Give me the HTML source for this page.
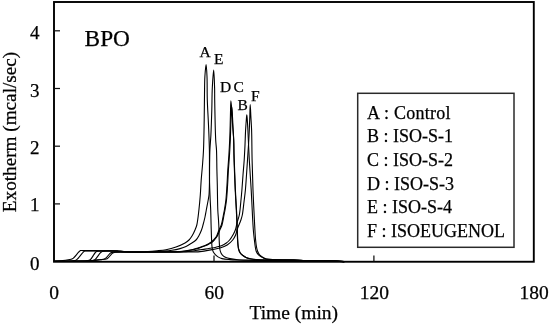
<!DOCTYPE html>
<html><head><meta charset="utf-8">
<style>
html,body{margin:0;padding:0;background:#fff;width:550px;height:325px;overflow:hidden}
svg{display:block;filter:grayscale(1)}
text{font-family:"Liberation Serif",serif;fill:#000;stroke:#000;stroke-width:0.25px}
</style></head><body>
<svg width="550" height="325" viewBox="0 0 550 325">
<!-- frame -->
<rect x="54" y="2" width="479.8" height="259.75" fill="none" stroke="#000" stroke-width="1.9"/>
<!-- y ticks -->
<g stroke="#111" stroke-width="1.25">
<line x1="54" y1="203.9" x2="60" y2="203.9"/>
<line x1="54" y1="146.2" x2="60" y2="146.2"/>
<line x1="54" y1="88.5" x2="60" y2="88.5"/>
<line x1="54" y1="30.8" x2="60" y2="30.8"/>
<line x1="214" y1="261.6" x2="214" y2="255.6"/>
<line x1="373.9" y1="261.6" x2="373.9" y2="255.6"/>
</g>
<!-- y labels -->
<g font-size="19" text-anchor="end">
<text x="39.5" y="269.5">0</text>
<text x="39.5" y="211.0">1</text>
<text x="39.5" y="153.7">2</text>
<text x="39.5" y="96.5">3</text>
<text x="39.5" y="38.6">4</text>
</g>
<g font-size="19.5" text-anchor="middle">
<text x="54" y="298.6">0</text>
<text x="214.2" y="298.6">60</text>
<text x="374.4" y="298.6">120</text>
<text x="534" y="298.6">180</text>
</g>
<text x="293.8" y="319.2" font-size="19.5" text-anchor="middle">Time (min)</text>
<text transform="translate(16,132) rotate(-90)" font-size="19.2" text-anchor="middle">Exotherm (mcal/sec)</text>
<text x="84.6" y="46" font-size="23.3">BPO</text>
<g fill="none" stroke="#000" stroke-width="1.1" stroke-linejoin="round" stroke-linecap="round">
<path d="M54.50,261.20 C54.50,261.20 60.40,260.89 62.90,260.60 C64.93,260.36 66.72,260.03 68.40,259.70 C69.84,259.42 70.96,259.60 72.40,258.80 C74.81,257.46 78.48,251.44 80.50,250.60 C81.40,250.22 81.68,250.60 82.80,250.60 C85.87,250.61 94.28,250.67 100.00,250.70 C105.68,250.73 112.57,250.57 117.00,250.80 C119.85,250.95 121.40,251.35 124.00,251.50 C127.25,251.69 131.18,251.69 135.00,251.70 C139.15,251.71 144.07,251.68 148.00,251.50 C151.28,251.35 154.00,251.10 157.00,250.80 C160.00,250.50 162.94,250.30 166.00,249.70 C169.27,249.06 172.80,248.14 176.00,247.00 C179.12,245.89 182.66,244.37 185.00,243.00 C186.67,242.02 187.81,241.20 189.00,240.00 C190.26,238.73 191.32,237.12 192.30,235.50 C193.33,233.80 194.23,231.81 195.00,230.00 C195.71,228.31 196.27,227.15 196.80,225.00 C197.70,221.37 198.32,215.01 198.90,210.00 C199.48,205.01 199.92,200.00 200.30,195.00 C200.68,190.00 200.83,185.00 201.20,180.00 C201.57,175.00 202.12,170.00 202.50,165.00 C202.88,160.00 203.24,155.86 203.50,150.00 C203.87,141.72 204.03,129.54 204.20,120.00 C204.35,111.29 204.37,102.71 204.50,95.00 C204.61,88.37 204.56,81.98 204.90,76.50 C205.17,72.09 205.75,64.60 206.10,64.60 C206.45,64.60 206.80,71.86 207.00,76.50 C207.29,83.01 207.06,92.05 207.30,100.00 C207.55,108.21 208.15,116.67 208.50,125.00 C208.85,133.33 209.23,141.29 209.40,150.00 C209.59,159.54 209.33,171.01 209.50,180.00 C209.64,187.34 209.97,194.48 210.20,200.00 C210.37,203.91 210.56,206.33 210.70,210.00 C210.87,214.49 210.95,220.00 211.10,225.00 C211.25,230.00 211.39,235.86 211.60,240.00 C211.75,242.93 211.76,245.36 212.10,247.50 C212.36,249.15 212.61,250.57 213.20,251.80 C213.72,252.89 214.50,253.75 215.30,254.60 C216.10,255.45 216.96,256.25 218.00,256.90 C219.16,257.61 220.40,258.17 222.00,258.60 C224.18,259.19 227.18,259.37 230.00,259.60 C233.14,259.86 236.09,259.88 240.00,260.00 C245.52,260.17 252.96,260.30 260.00,260.40 C267.87,260.51 275.97,260.51 285.00,260.60 C295.69,260.70 310.59,260.92 320.00,261.00 C326.36,261.06 331.58,260.95 336.00,261.10 C339.13,261.21 344.00,261.60 344.00,261.60"/>
<path d="M54.50,261.20 C54.50,261.20 62.64,261.10 66.00,261.00 C68.62,260.92 71.11,260.97 73.00,260.70 C74.32,260.51 75.07,260.61 76.30,259.90 C78.62,258.56 82.54,252.10 84.60,251.10 C85.50,250.66 85.82,250.95 86.90,250.90 C89.48,250.79 95.35,250.89 100.00,250.90 C105.30,250.92 112.39,250.76 117.00,251.00 C120.17,251.17 121.59,251.63 125.00,251.80 C131.02,252.10 143.18,251.97 150.00,251.80 C154.73,251.68 158.18,251.47 162.00,251.20 C165.49,250.96 168.87,250.77 172.00,250.30 C174.83,249.87 177.54,249.29 180.00,248.60 C182.16,247.99 184.13,247.38 186.00,246.50 C187.79,245.66 189.35,244.57 191.00,243.50 C192.69,242.41 194.64,241.39 196.00,240.00 C197.28,238.69 198.10,237.11 199.00,235.50 C199.95,233.79 200.82,231.81 201.50,230.00 C202.13,228.32 202.49,226.87 203.00,225.00 C203.65,222.65 204.44,219.59 205.00,217.00 C205.52,214.60 205.82,212.54 206.30,210.00 C206.87,206.96 207.72,202.76 208.20,200.00 C208.54,198.05 208.80,197.12 209.00,195.00 C209.35,191.35 209.40,185.00 209.50,180.00 C209.60,175.00 209.53,170.00 209.60,165.00 C209.67,160.00 209.68,155.00 209.90,150.00 C210.12,145.00 210.61,140.64 210.90,135.00 C211.27,127.73 211.56,118.07 211.80,110.00 C212.02,102.43 211.95,94.96 212.30,88.00 C212.62,81.69 213.32,69.99 213.70,70.00 C214.08,70.01 214.44,82.60 214.60,88.00 C214.73,92.40 214.61,94.83 214.70,100.00 C214.86,109.44 215.23,131.12 215.70,140.00 C215.93,144.45 216.30,146.09 216.50,150.00 C216.78,155.52 216.76,163.81 216.90,170.00 C217.03,175.36 217.17,179.36 217.30,185.00 C217.47,192.27 217.51,203.55 217.80,210.00 C217.98,214.09 218.30,216.67 218.50,220.00 C218.70,223.33 218.88,226.67 219.00,230.00 C219.12,233.33 219.06,236.76 219.20,240.00 C219.33,243.08 219.37,246.62 219.80,249.00 C220.09,250.62 220.40,251.83 221.00,253.00 C221.56,254.08 222.34,255.04 223.20,255.80 C224.02,256.53 224.95,257.05 226.00,257.50 C227.18,258.01 228.38,258.26 230.00,258.60 C232.43,259.12 235.71,259.70 239.20,260.00 C243.75,260.39 248.90,260.21 255.00,260.30 C263.41,260.42 274.61,260.49 285.00,260.60 C296.22,260.72 310.59,260.92 320.00,261.00 C326.36,261.06 331.58,260.95 336.00,261.10 C339.13,261.21 344.00,261.60 344.00,261.60"/>
<path d="M54.50,261.20 C54.50,261.20 74.16,261.15 80.00,261.00 C83.06,260.92 85.13,261.00 87.00,260.70 C88.29,260.49 89.12,260.56 90.20,259.80 C92.03,258.52 94.19,253.22 95.80,252.00 C96.60,251.40 96.88,251.40 98.00,251.20 C101.19,250.63 112.02,250.90 117.00,251.10 C120.24,251.23 121.39,251.64 125.00,251.80 C132.54,252.14 149.96,251.99 160.00,251.90 C167.59,251.83 174.49,251.97 180.00,251.50 C183.92,251.17 187.10,250.58 190.00,250.00 C192.27,249.55 194.10,249.04 196.00,248.50 C197.75,248.00 199.43,247.43 201.00,246.90 C202.41,246.43 203.78,246.02 205.00,245.50 C206.09,245.04 207.01,244.53 208.00,244.00 C209.01,243.46 210.08,242.97 211.00,242.30 C211.91,241.64 212.67,240.88 213.50,240.00 C214.47,238.98 215.55,237.93 216.40,236.50 C217.45,234.73 218.13,232.01 219.00,230.00 C219.77,228.21 220.64,227.00 221.30,225.00 C222.20,222.28 222.83,217.76 223.40,215.00 C223.80,213.05 224.06,211.96 224.40,210.00 C224.88,207.24 225.49,203.68 225.90,200.00 C226.40,195.51 226.68,190.00 227.00,185.00 C227.32,180.00 227.48,175.00 227.80,170.00 C228.12,165.00 228.58,160.00 228.90,155.00 C229.22,150.00 229.48,145.00 229.70,140.00 C229.92,135.00 230.06,129.82 230.20,125.00 C230.33,120.51 230.38,116.18 230.50,112.00 C230.61,108.10 230.65,100.71 230.90,100.70 C231.15,100.69 231.72,108.10 232.00,112.00 C232.30,116.18 232.33,120.51 232.60,125.00 C232.89,129.82 233.48,135.00 233.70,140.00 C233.92,145.00 233.77,149.64 233.90,155.00 C234.05,161.19 234.37,168.81 234.60,175.00 C234.80,180.36 234.95,184.64 235.20,190.00 C235.49,196.19 236.01,204.48 236.30,210.00 C236.51,213.90 236.65,216.33 236.80,220.00 C236.99,224.49 237.09,230.51 237.30,235.00 C237.47,238.67 237.63,242.42 237.90,245.00 C238.07,246.64 238.15,247.70 238.50,249.00 C238.85,250.30 239.28,251.73 240.00,252.80 C240.67,253.81 241.63,254.54 242.60,255.30 C243.62,256.11 244.73,256.93 246.00,257.50 C247.38,258.12 248.99,258.46 250.60,258.80 C252.32,259.17 253.77,259.40 256.00,259.60 C259.57,259.91 264.76,259.89 270.00,260.00 C276.72,260.14 285.42,260.15 293.00,260.30 C300.42,260.45 307.75,260.78 315.00,260.90 C322.08,261.01 330.66,260.79 336.00,261.00 C339.30,261.13 344.00,261.60 344.00,261.60"/>
<path d="M54.50,261.20 C54.50,261.20 78.42,261.21 85.00,261.00 C88.16,260.90 90.17,260.95 92.00,260.60 C93.23,260.36 93.94,260.33 95.00,259.60 C96.83,258.34 99.22,253.56 101.00,252.30 C102.00,251.60 102.49,251.53 103.80,251.30 C106.55,250.81 113.15,251.05 117.00,251.20 C120.00,251.32 121.39,251.74 125.00,251.90 C132.54,252.23 149.68,251.97 160.00,251.90 C168.18,251.84 176.29,252.08 182.00,251.60 C185.67,251.29 188.31,250.74 191.00,250.20 C193.21,249.75 195.10,249.26 197.00,248.70 C198.75,248.18 200.43,247.56 202.00,247.00 C203.41,246.50 204.78,246.03 206.00,245.50 C207.09,245.03 208.01,244.54 209.00,244.00 C210.01,243.45 211.08,242.90 212.00,242.20 C212.91,241.50 213.68,240.71 214.50,239.80 C215.42,238.77 216.39,237.70 217.20,236.30 C218.21,234.56 218.96,231.97 219.80,230.00 C220.55,228.23 221.37,226.99 222.00,225.00 C222.86,222.28 223.45,217.76 224.00,215.00 C224.39,213.05 224.66,211.96 225.00,210.00 C225.48,207.24 226.09,203.68 226.50,200.00 C227.00,195.51 227.28,190.00 227.60,185.00 C227.92,180.00 228.08,175.00 228.40,170.00 C228.72,165.00 229.18,160.00 229.50,155.00 C229.82,150.00 230.08,145.00 230.30,140.00 C230.52,135.00 230.61,129.49 230.80,125.00 C230.95,121.33 231.12,118.15 231.30,115.00 C231.46,112.18 231.62,107.00 231.80,107.00 C231.98,107.00 232.22,112.18 232.40,115.00 C232.60,118.15 232.71,121.33 232.90,125.00 C233.13,129.50 233.50,135.00 233.70,140.00 C233.90,145.00 233.93,149.64 234.10,155.00 C234.29,161.19 234.57,168.81 234.80,175.00 C235.00,180.36 235.15,184.64 235.40,190.00 C235.69,196.19 236.21,204.48 236.50,210.00 C236.71,213.90 236.85,216.33 237.00,220.00 C237.19,224.49 237.29,230.51 237.50,235.00 C237.67,238.67 237.81,242.33 238.10,245.00 C238.29,246.80 238.38,248.10 238.80,249.50 C239.20,250.82 239.74,252.15 240.50,253.20 C241.22,254.20 242.21,254.96 243.20,255.70 C244.21,256.46 245.28,257.16 246.50,257.70 C247.85,258.29 249.38,258.67 251.00,259.00 C252.84,259.37 254.61,259.52 257.00,259.70 C260.50,259.96 265.05,259.99 270.00,260.10 C276.58,260.24 285.42,260.26 293.00,260.40 C300.42,260.53 307.75,260.80 315.00,260.90 C322.08,261.00 330.66,260.79 336.00,261.00 C339.30,261.13 344.00,261.60 344.00,261.60"/>
<path d="M54.50,261.20 C54.50,261.20 79.64,261.32 88.00,260.90 C93.01,260.65 96.81,260.36 100.00,259.80 C102.17,259.42 103.75,259.37 105.40,258.40 C107.30,257.28 108.94,253.92 110.50,253.00 C111.45,252.44 112.08,252.46 113.20,252.30 C114.94,252.05 116.69,252.16 120.00,252.10 C128.98,251.95 157.50,252.06 170.00,251.90 C177.50,251.80 182.75,251.94 188.00,251.50 C192.13,251.16 195.88,250.33 199.00,249.90 C201.30,249.58 203.09,249.38 205.00,249.10 C206.74,248.84 208.26,248.60 210.00,248.30 C211.91,247.97 214.01,247.66 216.00,247.20 C218.01,246.73 220.24,246.24 222.00,245.50 C223.51,244.86 224.75,244.10 226.00,243.20 C227.28,242.28 228.65,241.05 229.60,240.00 C230.36,239.16 230.80,238.42 231.40,237.50 C232.09,236.44 232.84,235.26 233.50,234.00 C234.22,232.61 234.94,231.20 235.50,229.50 C236.18,227.45 236.48,224.86 237.10,222.50 C237.74,220.03 238.72,217.87 239.30,215.00 C240.05,211.29 240.36,206.25 240.80,202.00 C241.22,197.92 241.55,194.22 241.90,190.00 C242.29,185.28 242.62,180.00 243.00,175.00 C243.38,170.00 243.87,165.00 244.20,160.00 C244.53,155.00 244.77,150.00 245.00,145.00 C245.23,140.00 245.35,134.49 245.60,130.00 C245.80,126.33 246.07,122.79 246.30,120.00 C246.47,117.98 246.63,114.80 246.80,114.80 C246.97,114.80 247.14,117.98 247.30,120.00 C247.52,122.79 247.67,125.77 247.90,130.00 C248.29,137.32 248.75,150.00 249.30,160.00 C249.85,170.00 250.63,180.00 251.20,190.00 C251.77,200.00 252.25,212.25 252.70,220.00 C252.99,224.90 253.18,228.41 253.50,232.00 C253.76,234.94 254.09,237.42 254.40,240.00 C254.69,242.41 254.94,244.93 255.30,247.00 C255.59,248.67 255.75,250.18 256.30,251.50 C256.79,252.68 257.52,253.73 258.30,254.60 C259.03,255.41 259.77,255.96 260.80,256.60 C262.18,257.45 263.98,258.48 266.00,259.00 C268.54,259.65 271.44,259.45 275.00,259.60 C280.16,259.81 288.53,259.71 294.00,259.90 C298.17,260.05 301.05,260.34 305.00,260.50 C309.61,260.69 314.92,260.82 320.00,260.90 C325.25,260.99 331.58,260.82 336.00,261.00 C339.13,261.13 344.00,261.60 344.00,261.60"/>
<path d="M54.50,261.20 C54.50,261.20 79.65,261.35 88.00,260.90 C93.01,260.63 96.53,260.12 100.00,259.70 C102.68,259.38 105.06,259.73 107.10,258.70 C109.17,257.65 110.85,254.41 112.30,253.40 C113.13,252.82 113.32,252.66 114.50,252.40 C118.32,251.55 130.55,252.18 140.00,252.10 C151.84,252.00 168.95,252.01 180.00,251.90 C187.81,251.82 194.20,252.12 200.00,251.60 C204.53,251.19 208.41,250.26 212.00,249.60 C214.94,249.06 217.44,248.78 220.00,248.00 C222.50,247.24 225.06,246.36 227.20,245.00 C229.29,243.67 231.27,241.77 232.70,240.00 C233.94,238.47 234.73,236.98 235.50,235.20 C236.37,233.20 236.68,230.85 237.50,228.50 C238.44,225.81 240.06,222.48 240.90,220.00 C241.53,218.13 241.88,217.08 242.30,215.00 C242.97,211.70 243.47,206.25 244.00,202.00 C244.50,197.92 245.00,194.23 245.40,190.00 C245.85,185.28 246.15,180.00 246.50,175.00 C246.85,170.00 247.17,165.00 247.50,160.00 C247.83,155.00 248.20,150.00 248.50,145.00 C248.80,140.00 249.08,134.82 249.30,130.00 C249.51,125.51 249.65,121.28 249.80,117.00 C249.95,112.82 250.02,104.60 250.20,104.60 C250.38,104.60 250.67,112.82 250.90,117.00 C251.14,121.28 251.42,124.77 251.60,130.00 C251.88,137.94 251.87,150.00 252.10,160.00 C252.33,170.00 252.62,180.00 253.00,190.00 C253.38,200.00 253.92,211.01 254.40,220.00 C254.79,227.34 255.13,235.05 255.60,240.00 C255.88,242.94 256.12,245.00 256.50,247.00 C256.79,248.53 257.05,249.78 257.50,251.00 C257.91,252.10 258.35,253.09 259.00,254.00 C259.67,254.93 260.45,255.73 261.50,256.50 C262.82,257.47 264.50,258.54 266.50,259.10 C269.10,259.82 272.29,259.55 276.00,259.70 C281.24,259.91 289.53,259.81 295.00,260.00 C299.17,260.15 302.11,260.44 306.00,260.60 C310.38,260.78 315.18,260.92 320.00,261.00 C325.15,261.09 331.58,260.95 336.00,261.10 C339.13,261.21 344.00,261.60 344.00,261.60"/>
</g>
<!-- legend -->
<rect x="357.7" y="93.3" width="156.3" height="154" fill="none" stroke="#2a2a2a" stroke-width="1.5"/>
<g font-size="18">
<text x="367" y="118.8" letter-spacing="0.25">A : Control</text>
<text x="367" y="142.4">B : ISO-S-1</text>
<text x="367" y="166.0">C : ISO-S-2</text>
<text x="367" y="189.5">D : ISO-S-3</text>
<text x="367" y="213.1">E : ISO-S-4</text>
<text x="367" y="236.6">F : ISOEUGENOL</text>
</g>
<g font-size="15.5">
<text x="199.5" y="57.2">A</text>
<text x="214.1" y="63.5">E</text>
<text x="220.0" y="91.8">D</text>
<text x="233.6" y="92.3">C</text>
<text x="237.6" y="110">B</text>
<text x="251" y="100.8">F</text>
</g>
</svg>
</body></html>
